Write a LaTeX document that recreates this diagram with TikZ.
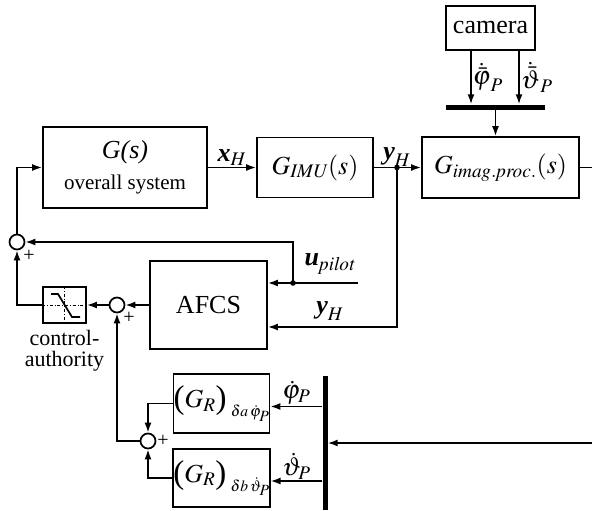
\documentclass[tikz,border=0pt]{standalone}
\usepackage{mathptmx}
\usepackage[no-math]{fontspec}
\setmainfont{Liberation Serif}
\usetikzlibrary{arrows.meta, positioning, calc}

\newcommand{\bigparen}[1]{\raisebox{-1pt}{\fontsize{33}{33}\selectfont #1}}

\begin{document}
\begin{tikzpicture}[x=1pt, y=-1pt,
    block/.style={rectangle, draw, line width=1.7pt, inner sep=0pt, align=center, font=\fontsize{26}{29}\selectfont},
    sumnode/.style={circle, draw, line width=1.7pt, minimum size=15pt, inner sep=0pt},
    bar/.style={rectangle, fill=black, inner sep=0pt},
    arr/.style={-{Latex[length=10pt,width=7pt]}, line width=1.7pt},
    lbl/.style={font=\fontsize{26}{29}\selectfont, inner sep=1pt},
    sgn/.style={font=\fontsize{20}{20}\selectfont, inner sep=0pt}
]
\useasboundingbox (0,0) rectangle (592,511);

% main blocks
\node[block, minimum width=164pt, minimum height=81pt] (gs) at (125,167.5) {\textit{G(s)}\\[2pt]{\fontsize{21}{23}\selectfont overall system}};
\node[block, minimum width=116pt, minimum height=60pt] (gimu) at (315,167.5) {$G_{\mathit{IMU}}\mathit{(s)}$};
\node[block, minimum width=157pt, minimum height=61pt] (gimg) at (500.5,167.5) {$G_{\mathit{imag.proc.}}\mathit{(s)}$};
\node[block, minimum width=89pt, minimum height=44pt] (camera) at (490.5,28) {camera};
\node[bar, minimum width=99pt, minimum height=5pt] (topbar) at (495.5,107) {};
\node[block, minimum width=117pt, minimum height=88pt] (afcs) at (208.5,305) {AFCS};
\node[block, minimum width=43pt, minimum height=36pt] (sat) at (64.5,305) {};
\node[sumnode] (sum1) at (17,242) {};
\node[sumnode] (sum2) at (117,305) {};
\node[sumnode] (sum3) at (148,441) {};
\node[block, minimum width=91pt, minimum height=59pt] (gra) at (221.5,403.5)
    {\bigparen{(}$G_R$\bigparen{)}\,\raisebox{-9pt}{$\scriptscriptstyle\delta a\,\dot\varphi_P$}};
\node[block, minimum width=91pt, minimum height=58pt] (grb) at (221.5,478)
    {\bigparen{(}$G_R$\bigparen{)}\,\raisebox{-9pt}{$\scriptscriptstyle\delta b\,\dot\vartheta_P$}};
\node[bar, minimum width=5pt, minimum height=134pt] (botbar) at (325,443) {};

% saturation symbol
\draw[line width=0.6pt, dash dot] (sat.west) -- (sat.east);
\draw[line width=0.6pt, dash dot] (sat.north) -- (sat.south);
\draw[line width=1.7pt] ([shift={(-13.5,-11)}]sat.center) -- ([shift={(-6.5,-11)}]sat.center)
    -- ([shift={(7.5,12)}]sat.center) -- ([shift={(15.5,12)}]sat.center);
\node[font=\fontsize{22}{21}\selectfont, align=center, below=3pt of sat] (authority) {control-\\authority};

% signals
\coordinate (jy) at (397,167.5);
\coordinate (du) at ([yshift=22pt]afcs.east -| 293,0);
\coordinate (uin) at ([yshift=22pt]afcs.east -| 358,0);
\coordinate (rc) at (598,0);

\draw[arr] (gs.east) -- node[lbl, above] (xh) {$\textbf{\textit{x}}_{H}$} (gimu.west);
\draw[arr] (gimu.east) -- (gimg.west);
\fill (jy) circle (2.8pt);
\node[lbl, above=0pt of jy] (yh) {$\textbf{\textit{y}}_{H}$};

\draw[arr] ([xshift=-19.5pt]camera.south) -- node[lbl, right] (phibar) {$\dot{\bar{\varphi}}_P$} ([xshift=-19.5pt]camera.south |- topbar.north);
\draw[arr] ([xshift=28.5pt]camera.south) -- node[lbl, right] (thetabar) {$\dot{\bar{\vartheta}}_P$} ([xshift=28.5pt]camera.south |- topbar.north);
\draw[arr] (topbar.south) -- (topbar.south |- gimg.north);

\draw[arr] (gimg.east) -- (gimg.east -| rc) |- (botbar.east);
\draw[arr] ([yshift=-3pt]gra.east -| botbar.west) -- node[lbl, above] (phidot) {$\dot\varphi_P$} ([yshift=-3pt]gra.east);
\draw[arr] ([yshift=-3pt]grb.east -| botbar.west) -- node[lbl, above] (thetadot) {$\dot\vartheta_P$} ([yshift=-3pt]grb.east);
\draw[arr] (gra.west) -| (sum3.north);
\draw[arr] (grb.west) -| (sum3.south);
\draw[arr] (sum3.west) -| (sum2.south);

\draw[arr] (uin) -- ([yshift=22pt]afcs.east);
\fill (du) circle (2.8pt);
\draw[arr] (du) |- (sum1.east);
\draw[arr] (jy) |- ([yshift=-22pt]afcs.east);
\node[lbl] (upilot) at (330,264) {$\textbf{\textit{u}}_{\mathit{pilot}}$};
\node[lbl] (yhlow) at (330,311) {$\textbf{\textit{y}}_{H}$};

\draw[arr] (afcs.west) -- (sum2.east);
\draw[arr] (sum2.west) -- (sat.east);
\draw[arr] (sat.west) -| (sum1.south);
\draw[arr] (sum1.north) |- (gs.west);

\node[sgn] (plus1) at (29,256) {+};
\node[sgn] (plus2) at (129,318) {+};
\node[sgn] (plus3) at (163,441) {+};
\end{tikzpicture}
\end{document}
